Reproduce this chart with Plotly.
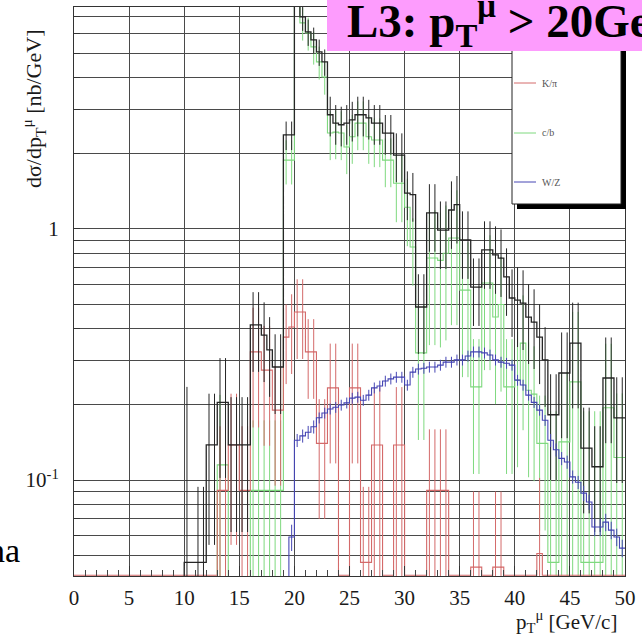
import plotly.graph_objects as go

# ---------------- data (0.5 GeV bins, lower edges from 10.0 to 49.5) ----------------
BIN_LO = 10.0
BIN_W = 0.5

# total (black)
black = [
    0.047, 0.047, 0.047, 0.047, 0.138, 0.138, 0.204, 0.204, 0.138, 0.138,
    0.138, 0.138, 0.415, 0.415, 0.378, 0.330, 0.282, 0.282, 2.37, 2.37,
    9.0, 6.99, 6.09, 5.66, 5.07, 4.63, 2.85, 2.64, 2.60, 2.64,
    2.72, 2.85, 2.85, 2.77, 2.64, 2.64, 2.41, 2.41, 1.97, 1.97,
    1.39, 1.37, 0.489, 0.489, 1.16, 1.16, 0.99, 0.99, 1.19, 1.25,
    0.904, 0.904, 0.587, 0.587, 0.825, 0.825, 0.788, 0.766, 0.644, 0.531,
    0.521, 0.507, 0.446, 0.426, 0.371, 0.301, 0.182, 0.182, 0.267, 0.267,
    0.351, 0.351, 0.134, 0.134, 0.113, 0.113, 0.255, 0.255, 0.177, 0.177,
]
black_relerr = [
    4.0, 0.0, 1.0, 1.0, 0.6, 0.6, 0.5, 0.5, 0.55, 0.55,
    0.55, 0.55, 0.35, 0.35, 0.35, 0.35, 0.35, 0.35, 0.13, 0.13,
    0.12, 0.12, 0.12, 0.12, 0.12, 0.12, 0.18, 0.18, 0.18, 0.18,
    0.18, 0.18, 0.18, 0.18, 0.18, 0.18, 0.18, 0.18, 0.22, 0.22,
    0.22, 0.22, 0.35, 0.35, 0.3, 0.3, 0.3, 0.3, 0.3, 0.3,
    0.3, 0.3, 0.3, 0.3, 0.3, 0.3, 0.3, 0.3, 0.3, 0.3,
    0.35, 0.35, 0.35, 0.35, 0.35, 0.35, 0.45, 0.45, 0.45, 0.45,
    0.45, 0.45, 0.45, 0.45, 0.45, 0.45, 0.45, 0.45, 0.45, 0.45,
]

# c/b (green)
green = [
    0, 0, 0, 0, 0, 0, 0.115, 0.115, 0, 0,
    0, 0, 0.091, 0.091, 0.091, 0.091, 0.091, 0.091, 1.88, 1.88,
    9.0, 6.62, 6.04, 5.31, 4.63, 4.03, 2.41, 2.43, 2.41, 2.12,
    2.33, 2.64, 2.64, 2.33, 2.26, 2.26, 1.88, 1.88, 1.52, 1.52,
    1.22, 0.848, 0.321, 0.321, 0.766, 0.766, 0.75, 0.80, 0.92, 0.92,
    0.571, 0.571, 0.235, 0.235, 0.609, 0.609, 0.446, 0.50, 0.235, 0.235,
    0.25, 0.351, 0.228, 0.22, 0.14, 0.14, 0.047, 0.047, 0.142, 0.142,
    0.246, 0.246, 0.047, 0.047, 0.047, 0.047, 0.194, 0.194, 0.123, 0.123,
]
green_relerr = [
    0, 0, 0, 0, 0, 0, 0.9, 0.9, 0, 0,
    0, 0, 0.9, 0.9, 0.9, 0.9, 0.9, 0.9, 0.2, 0.2,
    0.15, 0.15, 0.15, 0.15, 0.15, 0.15, 0.22, 0.22, 0.22, 0.22,
    0.22, 0.22, 0.22, 0.22, 0.22, 0.22, 0.22, 0.22, 0.3, 0.3,
    0.3, 0.3, 0.55, 0.55, 0.55, 0.55, 0.55, 0.55, 0.55, 0.55,
    0.55, 0.55, 0.55, 0.55, 0.55, 0.55, 0.55, 0.55, 0.55, 0.55,
    0.55, 0.55, 0.55, 0.55, 0.55, 0.55, 3.0, 3.0, 0.9, 0.9,
    0.9, 0.9, 3.0, 3.0, 3.0, 3.0, 0.8, 0.8, 0.8, 0.8,
]

# K/pi (red); bins 0-10 GeV are empty
red_below10 = [0.0] * 20
red = [
    0, 0, 0, 0, 0, 0, 0.091, 0.091, 0.138, 0.138,
    0.091, 0.091, 0.324, 0.324, 0.274, 0.274, 0.19, 0.19, 0.371, 0.407,
    0.467, 0.467, 0.324, 0.324, 0.14, 0.14, 0.233, 0.233, 0, 0,
    0.233, 0.233, 0.047, 0.047, 0.138, 0.138, 0, 0, 0.138, 0.138,
    0, 0, 0, 0, 0.091, 0.091, 0.091, 0.091, 0, 0,
    0, 0, 0.045, 0.045, 0, 0, 0.045, 0.045, 0, 0,
    0, 0, 0, 0, 0.051, 0, 0, 0, 0, 0,
    0, 0, 0, 0, 0, 0, 0, 0, 0, 0,
]
red_relerr = [
    0, 0, 0, 0, 0, 0, 0.8, 0.8, 0.6, 0.6,
    0.8, 0.8, 0.5, 0.5, 0.5, 0.5, 0.5, 0.5, 0.35, 0.35,
    0.35, 0.35, 0.35, 0.35, 0.5, 0.5, 0.5, 0.5, 0, 0,
    0.5, 0.5, 1.0, 1.0, 0.7, 0.7, 0, 0, 0.7, 0.7,
    0, 0, 0, 0, 0.75, 0.75, 0.75, 0.75, 0, 0,
    0, 0, 1.0, 1.0, 0, 0, 1.0, 1.0, 0, 0,
    0, 0, 0, 0, 1.0, 0, 0, 0, 0, 0,
    0, 0, 0, 0, 0, 0, 0, 0, 0, 0,
]

# W/Z (blue)
blue = [
    0, 0, 0, 0, 0, 0, 0, 0, 0, 0,
    0, 0, 0, 0, 0, 0, 0, 0, 0, 0.0593,
    0.144, 0.150, 0.155, 0.163, 0.177, 0.185, 0.192, 0.195, 0.199, 0.203,
    0.212, 0.214, 0.208, 0.218, 0.233, 0.237, 0.248, 0.253, 0.257, 0.257,
    0.239, 0.269, 0.277, 0.279, 0.282, 0.282, 0.287, 0.295, 0.295, 0.301,
    0.301, 0.312, 0.324, 0.324, 0.321, 0.315, 0.301, 0.295, 0.292, 0.287,
    0.250, 0.239, 0.218, 0.204, 0.190, 0.173, 0.144, 0.132, 0.122, 0.118,
    0.103, 0.098, 0.0887, 0.0818, 0.065, 0.065, 0.068, 0.0632, 0.0593, 0.0536,
]
blue_relerr = [
    0, 0, 0, 0, 0, 0, 0, 0, 0, 0,
    0, 0, 0, 0, 0, 0, 0, 0, 0, 0.12,
    0.06, 0.06, 0.06, 0.06, 0.05, 0.05, 0.05, 0.05, 0.05, 0.05,
    0.05, 0.05, 0.05, 0.05, 0.05, 0.05, 0.05, 0.05, 0.05, 0.05,
    0.05, 0.05, 0.05, 0.05, 0.05, 0.05, 0.05, 0.05, 0.05, 0.05,
    0.05, 0.05, 0.05, 0.05, 0.05, 0.05, 0.05, 0.05, 0.05, 0.05,
    0.05, 0.05, 0.05, 0.05, 0.05, 0.05, 0.06, 0.06, 0.06, 0.06,
    0.06, 0.06, 0.07, 0.07, 0.08, 0.08, 0.08, 0.08, 0.08, 0.08,
]

x_ticks = [0, 5, 10, 15, 20, 25, 30, 35, 40, 45, 50]
y_grid = [0.05, 0.06, 0.07, 0.08, 0.09, 0.1, 0.2, 0.3, 0.4, 0.5, 0.6, 0.7, 0.8, 0.9,
          1, 2, 3, 4, 5, 6, 7]
y_labels = {0.1: "10<sup>-1</sup>", 1: "1"}

legend_names = ["K/\u03c0", "c/b", "W/Z"]

# ---------------- style ----------------
COL_BLACK = "#262626"
COL_GREEN = "#7fd97f"
COL_RED = "#d46a6a"
COL_BLUE = "#4646b4"
Y_LOG_RANGE = [-1.382, 0.884]
Y_FLOOR = 10 ** (Y_LOG_RANGE[0] + 0.003)   # empty bins sit on the bottom frame (ROOT style)
TINY = 1e-4

L, R, T, B = 74, 17, 7, 63
W, H = 642, 639
PW, PH = W - L - R, H - T - B


def px_x(p):
    return (p - L) / PW


def px_y(p):
    return (H - B - p) / PH


def step_xy(lo, vals, floor):
    xs = [lo]
    ys = [floor]
    for i, v in enumerate(vals):
        xs.append(lo + i * BIN_W)
        ys.append(v if v > 0 else floor)
    xs.append(lo + len(vals) * BIN_W)
    ys.append(ys[-1])
    return xs, ys


def err_xy(lo, vals, rel):
    cx, cy, up, dn = [], [], [], []
    for i, (v, r) in enumerate(zip(vals, rel)):
        if v > 0 and r > 0:
            e = v * r
            cx.append(lo + (i + 0.5) * BIN_W)
            cy.append(v)
            up.append(e)
            dn.append(min(e, v * 0.99999))
    return cx, cy, up, dn


fig = go.Figure()


def add_hist(lo, vals, rel, color, width, floor):
    xs, ys = step_xy(lo, vals, floor)
    fig.add_trace(go.Scatter(x=xs, y=ys, mode="lines", line=dict(color=color, width=width, shape="hv"),
                             hoverinfo="skip"))
    cx, cy, up, dn = err_xy(lo, vals, rel)
    fig.add_trace(go.Scatter(x=cx, y=cy, mode="markers", marker=dict(size=1, color=color),
                             error_y=dict(type="data", array=up, arrayminus=dn, width=0,
                                          thickness=1, color=color),
                             hoverinfo="skip"))


add_hist(BIN_LO, green, green_relerr, COL_GREEN, 1.1, TINY)
add_hist(BIN_LO - len(red_below10) * BIN_W, red_below10 + red,
         [0.0] * len(red_below10) + red_relerr, COL_RED, 1.1, Y_FLOOR)
add_hist(BIN_LO, black, black_relerr, COL_BLACK, 1.3, TINY)
add_hist(BIN_LO, blue, blue_relerr, COL_BLUE, 1.1, TINY)

serif = "Liberation Serif, Times New Roman, serif"

fig.update_layout(
    width=W, height=H, autosize=False,
    margin=dict(l=L, r=R, t=T, b=B),
    paper_bgcolor="white", plot_bgcolor="white",
    showlegend=False,
    font=dict(family=serif, color="#1a1a1a"),
    xaxis=dict(range=[0, 50], tickvals=x_ticks, ticktext=[str(v) for v in x_ticks],
               ticks="inside", ticklen=10, tickcolor="#333", tickwidth=1,
               showgrid=True, gridcolor="#4a4a4a", gridwidth=1.3,
               showline=True, linecolor="#333", linewidth=1, mirror=True,
               zeroline=False, tickfont=dict(size=21, family=serif, color="#1a1a1a"),
               ticklabelstandoff=3,
               minor=dict(dtick=1, ticks="inside", ticklen=6, tickcolor="#444", showgrid=False)),
    yaxis=dict(type="log", range=Y_LOG_RANGE, tickvals=y_grid,
               ticktext=[y_labels.get(v, "") for v in y_grid],
               ticks="inside", ticklen=6, tickcolor="#333",
               showgrid=True, gridcolor="#4a4a4a", gridwidth=1.3,
               showline=True, linecolor="#333", linewidth=1, mirror=True,
               zeroline=False, tickfont=dict(size=21, family=serif, color="#1a1a1a"),
               ticklabelstandoff=10),
)

shapes = []
# legend box with ROOT-style shadow
shapes.append(dict(type="rect", xref="paper", yref="paper", layer="above",
                   x0=px_x(517), x1=px_x(626), y0=px_y(209), y1=px_y(40),
                   fillcolor="black", line=dict(width=0)))
shapes.append(dict(type="rect", xref="paper", yref="paper", layer="above",
                   x0=px_x(512), x1=px_x(621), y0=px_y(204), y1=px_y(36),
                   fillcolor="white", line=dict(color="#222", width=1)))
legend_cols = [COL_RED, COL_GREEN, COL_BLUE]
legend_y = [83, 133, 182]
for c, yy in zip(legend_cols, legend_y):
    shapes.append(dict(type="line", xref="paper", yref="paper", layer="above",
                       x0=px_x(514), x1=px_x(536), y0=px_y(yy), y1=px_y(yy),
                       line=dict(color=c, width=1)))
# pink title box
shapes.append(dict(type="rect", xref="paper", yref="paper", layer="above",
                   x0=px_x(327), x1=px_x(680), y0=px_y(51), y1=px_y(-10),
                   fillcolor="#fd9cfd", line=dict(width=0)))
fig.update_layout(shapes=shapes)

ann = []
for name, yy in zip(legend_names, legend_y):
    ann.append(dict(text=name, xref="paper", yref="paper", x=px_x(540), y=px_y(yy),
                    xanchor="left", yanchor="middle", showarrow=False,
                    font=dict(size=10, family=serif, color="#555")))
ann.append(dict(text="<b>L3: p<sub>T</sub><sup>\u03bc</sup> &gt; 20GeV</b>", xref="paper", yref="paper",
                x=px_x(345), y=px_y(21), xanchor="left", yanchor="middle", showarrow=False,
                font=dict(size=47, family=serif, color="black")))
ann.append(dict(text="d\u03c3/dp<sub>T</sub><sup>\u03bc</sup> [nb/GeV]", xref="paper", yref="paper",
                x=px_x(33), y=px_y(109), xanchor="center", yanchor="middle", textangle=-90,
                showarrow=False, font=dict(size=22, family=serif, color="#1a1a1a")))
ann.append(dict(text="p<sub>T</sub><sup>\u03bc</sup> [GeV/c]", xref="paper", yref="paper",
                x=px_x(619), y=px_y(621), xanchor="right", yanchor="middle",
                showarrow=False, font=dict(size=21, family=serif, color="#1a1a1a")))
ann.append(dict(text="na", xref="paper", yref="paper",
                x=px_x(22), y=px_y(550), xanchor="right", yanchor="middle",
                showarrow=False, font=dict(size=34, family=serif, color="black")))
fig.update_layout(annotations=ann)

fig.write_html("out.html", config={"displayModeBar": False},
               post_script="document.body.style.margin='0px';")
